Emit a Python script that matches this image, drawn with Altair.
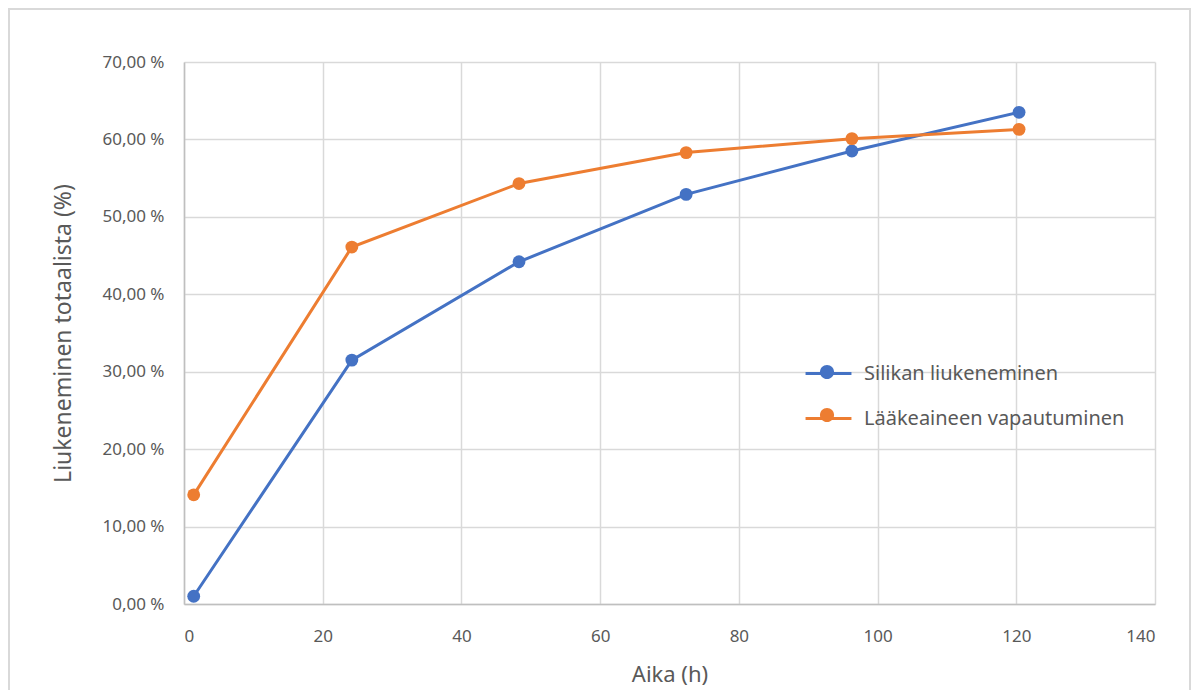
import altair as alt
import pandas as pd

# Dissolution / release measurements over time
hours = [1.4, 24.2, 48.3, 72.4, 96.3, 120.4]
silica_dissolution = [1.0, 31.5, 44.2, 52.9, 58.5, 63.5]
drug_release = [14.1, 46.1, 54.3, 58.3, 60.1, 61.3]

series_names = ["Silikan liukeneminen", "Lääkeaineen vapautuminen"]
series_colors = ["#4472C4", "#ED7D31"]
y_ticks = [0, 10, 20, 30, 40, 50, 60, 70]
x_ticks = [0, 20, 40, 60, 80, 100, 120, 140]

rows = []
for name, values in zip(series_names, [silica_dissolution, drug_release]):
    for h, v in zip(hours, values):
        rows.append({"Aika": h, "Osuus": v, "Sarja": name})
df = pd.DataFrame(rows)

FONT = "Noto Sans"
TEXT = "#595959"

# Two legends drawn on top of each other: one with the line stroke, one with the dot
LEG_X, LEG_Y = 628, 295
common_legend = dict(
    title=None,
    orient="none",
    legendX=LEG_X,
    legendY=LEG_Y,
    symbolSize=900,
    rowPadding=18,
    labelFont=FONT,
    labelFontSize=20,
    labelOffset=19,
    labelLimit=400,
)
line_legend = alt.Legend(
    symbolType="M-1.53,0L1.53,0",
    symbolStrokeWidth=3,
    labelColor=TEXT,
    **common_legend,
)
dot_legend = alt.Legend(
    symbolType="M-0.47,0A0.47,0.47,0,1,1,0.47,0A0.47,0.47,0,1,1,-0.47,0Z",
    symbolStrokeWidth=0,
    labelColor="transparent",
    labelExpr="''",
    **common_legend,
)
color_scale = alt.Scale(domain=series_names, range=series_colors)

x = alt.X(
    "Aika:Q",
    scale=alt.Scale(domain=[0, 140], nice=False),
    axis=alt.Axis(
        values=x_ticks,
        title="Aika (h)",
        ticks=False,
        labelPadding=24,
        titlePadding=20,
        titleFontSize=22,
    ),
)
y = alt.Y(
    "Osuus:Q",
    scale=alt.Scale(domain=[0, 70], nice=False),
    axis=alt.Axis(
        values=y_ticks,
        title="Liukeneminen totaalista (%)",
        ticks=False,
        labelPadding=20,
        titlePadding=27,
        titleFontSize=23,
        labelExpr="replace(format(datum.value, '.2f'), '.', ',') + ' %'",
    ),
)

lines = alt.Chart(df).mark_line(strokeWidth=3).encode(
    x=x, y=y, color=alt.Color("Sarja:N", scale=color_scale, legend=line_legend)
)
points = alt.Chart(df).mark_circle(size=165, opacity=1).encode(
    x=x, y=y, color=alt.Color("Sarja:N", scale=color_scale, legend=dot_legend)
)

frame = alt.Chart(pd.DataFrame({"k": [0]})).mark_rect(
    fill="transparent", stroke="#d9d9d9", strokeWidth=2
).encode(
    x=alt.value(-175), x2=alt.value(1006), y=alt.value(-53), y2=alt.value(700)
)

chart = (
    alt.layer(frame, lines, points)
    .resolve_legend(color="independent")
    .properties(
        width=971,
        height=542,
        autosize=alt.AutoSizeParams(type="none"),
        padding={"left": 184, "top": 62, "right": 42, "bottom": 86},
        background="white",
    )
    .configure_view(stroke=None)
    .configure_axis(
        gridColor="#d9d9d9",
        gridWidth=1.5,
        domainColor="#bfbfbf",
        domainWidth=1.5,
        labelFont=FONT,
        labelFontSize=17,
        labelColor=TEXT,
        titleFont=FONT,
        titleFontWeight="normal",
        titleColor=TEXT,
    )
)

chart.save("out.html", embed_options={"renderer": "svg", "actions": False})
